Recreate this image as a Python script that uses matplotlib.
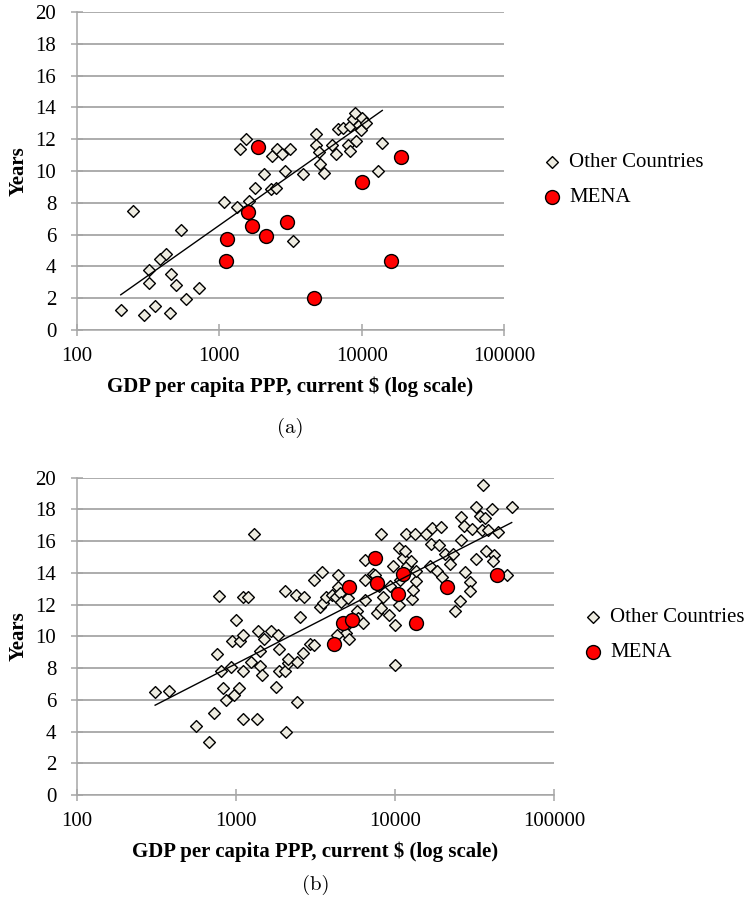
import numpy as np
from matplotlib import pyplot as plt

# panel (a)
a_other_gdp = [203, 248, 295, 318, 321, 356, 386, 421, 450, 454, 500, 540, 582, 722,
               1076, 1334, 1393, 1535, 1620, 1783, 2075, 2362, 2311, 2515, 2545, 2748,
               2898, 3126, 3300, 3875, 4753, 4806, 5012, 5070, 5410, 6156, 6572, 6860,
               7391, 8060, 8322, 8244, 8692, 8979, 9183, 9577, 10000, 9889, 10790,
               12950, 13960]
a_other_yrs = [1.26, 7.47, 0.95, 2.94, 3.79, 1.51, 4.46, 4.79, 1.09, 3.53, 2.84, 6.31, 1.96, 2.67,
               8.03, 7.72, 11.4, 12.03, 8.1, 8.94, 9.84, 10.93, 8.88, 8.94, 11.36, 11.1,
               9.99, 11.4, 5.57, 9.84, 12.35, 11.61, 11.19, 10.41, 9.89, 11.61, 11.08, 12.62,
               12.72, 11.65, 11.25, 12.83, 13.29, 13.67, 11.88, 12.87, 13.36, 12.56, 13.0,
               9.99, 11.78]
a_mena_gdp = [1862, 1585, 1710, 1135, 1111, 2142, 2992, 4656, 10000, 18880, 16070]
a_mena_yrs = [11.53, 7.4, 6.56, 5.74, 4.37, 5.89, 6.79, 2.04, 9.29, 10.89, 4.37]

# panel (b)
b_other_gdp = [310, 379, 560, 673, 727, 762, 777, 807, 830, 863, 932, 941, 969, 1007,
               1037, 1067, 1099, 1108, 1099, 1108, 1186, 1245, 1294, 1356, 1370, 1411,
               1411, 1466, 1494, 1660, 1794, 1828, 1863, 1863, 2032, 2032, 2051, 2112,
               2133, 2416, 2416, 2393, 2512, 2687, 2635, 2904, 3103, 3074, 3351, 3484,
               3550, 3690, 4025, 4226, 4350, 4393, 4480, 4563, 5074, 4832, 4932, 5174,
               4306, 5805, 5864, 6323, 6451, 6451, 6431, 7312, 7670, 7520, 7880, 8200,
               8200, 8450, 9210, 9300, 9760, 9950, 10050, 10540, 10540, 10750, 11270,
               11490, 11720, 11830, 12530, 12790, 13030, 13410, 13540, 13540, 15640,
               16560, 17050, 16900, 18250, 18950, 19480, 19870, 20650, 22320, 23220,
               23880, 25560, 26050, 27590, 26050, 27100, 29530, 29800, 30690, 32240,
               32240, 34450, 35150, 35810, 36850, 37240, 38650, 40950, 41780, 41400,
               44700, 50600, 54200]
b_other_yrs = [6.47, 6.58, 4.37, 3.36, 5.15, 8.89, 12.55, 7.78, 6.73, 5.99, 8.05, 9.71, 6.31, 11.03,
               6.73, 9.67, 12.5, 10.09, 7.84, 4.77, 12.5, 8.4, 16.46, 4.77, 10.34, 9.04,
               8.15, 7.57, 9.84, 10.36, 6.79, 10.09, 9.19, 7.84, 12.82, 7.82, 3.99, 8.34,
               8.56, 8.4, 5.84, 12.59, 11.24, 12.5, 8.93, 9.52, 13.56, 9.42, 11.87, 14.02,
               12.09, 12.5, 12.61, 12.5, 13.87, 13.13, 12.72, 12.13, 12.4, 10.61, 10.23, 9.82,
               10.09, 11.56, 11.14, 10.86, 12.3, 13.56, 14.82, 13.93, 11.46, 13.87, 13.18, 16.46,
               11.77, 12.47, 11.35, 13.18, 14.4, 8.2, 10.72, 15.55, 11.94, 13.56, 14.92,
               15.34, 16.46, 14.4, 14.71, 12.34, 12.93, 16.46, 13.45, 14.14, 16.46,
               14.4, 16.82, 15.83, 14.14, 15.76, 16.88, 13.73, 15.2, 14.57, 15.2,
               11.56, 12.19, 17.51, 14.02, 16.04, 16.92, 13.39, 12.82, 16.75, 18.14,
               14.86, 17.59, 16.71, 19.55, 17.44, 15.4, 16.67, 18.01, 15.13, 14.71,
               16.54, 13.87, 18.12]
b_mena_gdp = [4105, 4700, 5370, 5117, 7450, 7670, 10450, 11270, 13550, 21280, 43770]
b_mena_yrs = [9.52, 10.86, 11.03, 13.13, 14.9, 13.35, 12.67, 13.93, 10.86, 13.13, 13.87]

x_ticks = [100, 1000, 10000, 100000]
x_ticklabels = ['100', '1000', '10000', '100000']
y_ticks = list(range(0, 21, 2))

plt.rcParams['font.family'] = 'serif'
plt.rcParams['font.serif'] = ['Liberation Serif', 'DejaVu Serif']

GRID = '#a6a6a6'
DIAMOND_FILL = '#eeece1'


def draw_panel(fig, rect, other_x, other_y, mena_x, mena_y, legend_xy, caption, caption_xy):
    ax = fig.add_axes(rect)
    ax.set_xscale('log')
    ax.set_xlim(100, 100000)
    ax.set_ylim(0, 20)
    ax.set_xticks(x_ticks)
    ax.set_xticklabels(x_ticklabels)
    ax.minorticks_off()
    ax.set_yticks(y_ticks)
    ax.yaxis.grid(True, color=GRID, lw=1.3)
    ax.set_axisbelow(True)
    for s in ('top', 'right'):
        ax.spines[s].set_visible(False)
    for s in ('left', 'bottom'):
        ax.spines[s].set_color(GRID)
        ax.spines[s].set_linewidth(1.1)
    ax.tick_params(axis='both', direction='inout', length=8, width=1.1, color=GRID,
                   labelsize=15)
    ax.tick_params(axis='x', pad=8)
    ax.tick_params(axis='y', pad=11)

    ax.scatter(other_x, other_y, marker='D', s=36, facecolor=DIAMOND_FILL,
               edgecolor='black', linewidths=1.0, label='Other Countries', zorder=3)
    ax.scatter(mena_x, mena_y, marker='o', s=100, facecolor='#ff0000',
               edgecolor='black', linewidths=1.0, label='MENA', zorder=4)

    # excel style log trendline through the other countries
    lx = np.log10(other_x)
    k, b = np.polyfit(lx, other_y, 1)
    xs = np.array([lx.min(), lx.max()])
    ax.plot(10 ** xs, k * xs + b, color='black', lw=1.0, zorder=5)

    ax.set_ylabel('Years', fontweight='bold', fontsize=15, labelpad=5)
    ax.set_xlabel('GDP per capita PPP, current $ (log scale)',
                  fontweight='bold', fontsize=15, labelpad=8)

    ax.legend(loc='center left', bbox_to_anchor=legend_xy, bbox_transform=fig.transFigure,
              frameon=False, prop={'size': 15}, handlelength=0.8,
              handletextpad=0.4, labelspacing=0.75, borderpad=0, borderaxespad=0,
              scatterpoints=1)

    fig.text(caption_xy[0], caption_xy[1], caption,
             fontfamily='cmr10', fontsize=15, ha='center', va='center')
    return ax


fig = plt.figure(figsize=(7.51, 9.05), dpi=100)

draw_panel(fig, [77 / 751, 1 - 330 / 905, 427 / 751, 318 / 905],
           a_other_gdp, a_other_yrs, a_mena_gdp, a_mena_yrs,
           (544 / 751, 1 - 180 / 905), '(a)', (290 / 751, 1 - 428 / 905))
draw_panel(fig, [77 / 751, 1 - 795 / 905, 477 / 751, 317.5 / 905],
           b_other_gdp, b_other_yrs, b_mena_gdp, b_mena_yrs,
           (585 / 751, 1 - 635 / 905), '(b)', (316 / 751, 1 - 885 / 905))

plt.savefig('out.png', dpi=100)
